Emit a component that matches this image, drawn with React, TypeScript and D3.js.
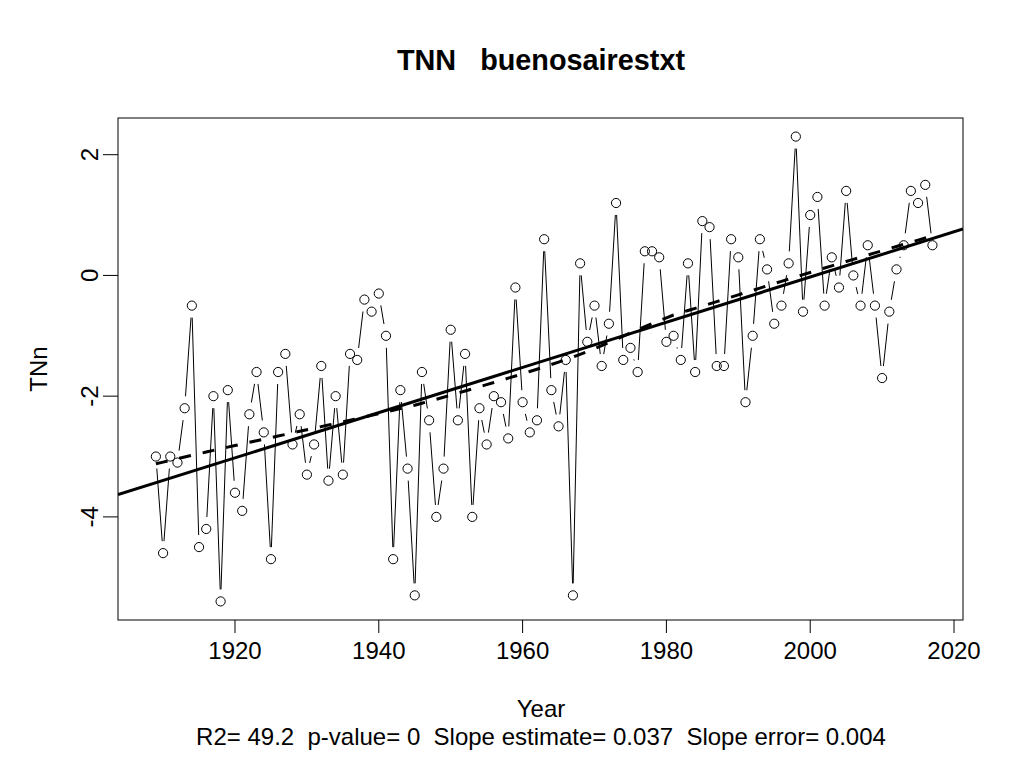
import React from "react";
import * as d3 from "d3";

const firstYear = 1909;
const tnnValues = [
  -3.0, -4.6, -3.0, -3.1, -2.2, -0.5, -4.5, -4.2, -2.0, -5.4,
  -1.9, -3.6, -3.9, -2.3, -1.6, -2.6, -4.7, -1.6, -1.3, -2.8,
  -2.3, -3.3, -2.8, -1.5, -3.4, -2.0, -3.3, -1.3, -1.4, -0.4,
  -0.6, -0.3, -1.0, -4.7, -1.9, -3.2, -5.3, -1.6, -2.4, -4.0,
  -3.2, -0.9, -2.4, -1.3, -4.0, -2.2, -2.8, -2.0, -2.1, -2.7,
  -0.2, -2.1, -2.6, -2.4, 0.6, -1.9, -2.5, -1.4, -5.3, 0.2,
  -1.1, -0.5, -1.5, -0.8, 1.2, -1.4, -1.2, -1.6, 0.4, 0.4,
  0.3, -1.1, -1.0, -1.4, 0.2, -1.6, 0.9, 0.8, -1.5, -1.5,
  0.6, 0.3, -2.1, -1.0, 0.6, 0.1, -0.8, -0.5, 0.2, 2.3,
  -0.6, 1.0, 1.3, -0.5, 0.3, -0.2, 1.4, 0.0, -0.5, 0.5,
  -0.5, -1.7, -0.6, 0.1, 0.5, 1.4, 1.2, 1.5, 0.5,
];
const years = tnnValues.map((_, i) => firstYear + i);
const xTicks = [1920, 1940, 1960, 1980, 2000, 2020];
const yTicks = [2, 0, -2, -4];
const titleText = "TNN   buenosairestxt";
const xLabel = "Year";
const yLabel = "TNn";
const statsText = "R2= 49.2  p-value= 0  Slope estimate= 0.037  Slope error= 0.004";

// R-style lowess (clowess), f = 2/3, iter = 3
function lowess(x: number[], y: number[], f = 2 / 3, iter = 3): number[] {
  const n = x.length;
  const ns = Math.max(Math.min(Math.round(f * n), n), 2);
  const range = x[n - 1] - x[0];
  let rw = new Array(n).fill(1);
  let ys = new Array(n).fill(0);
  for (let it = 0; it <= iter; it++) {
    let nleft = 0;
    let nright = ns - 1;
    for (let i = 0; i < n; i++) {
      while (nright < n - 1 && x[i] - x[nleft] > x[nright + 1] - x[i]) {
        nleft++;
        nright++;
      }
      const h = Math.max(x[i] - x[nleft], x[nright] - x[i]);
      const h9 = 0.999 * h;
      const h1 = 0.001 * h;
      const w = new Array(n).fill(0);
      let a = 0;
      for (let j = 0; j < n; j++) {
        const r = Math.abs(x[j] - x[i]);
        if (r <= h9) {
          if (r <= h1) w[j] = 1;
          else w[j] = Math.pow(1 - Math.pow(r / h, 3), 3);
          w[j] *= rw[j];
          a += w[j];
        }
      }
      if (a <= 0) {
        ys[i] = y[i];
        continue;
      }
      for (let j = 0; j < n; j++) w[j] /= a;
      if (h > 0) {
        let aa = 0;
        for (let j = 0; j < n; j++) aa += w[j] * x[j];
        let b = x[i] - aa;
        let c = 0;
        for (let j = 0; j < n; j++) c += w[j] * (x[j] - aa) * (x[j] - aa);
        if (Math.sqrt(c) > 0.001 * range) {
          b /= c;
          for (let j = 0; j < n; j++) w[j] *= b * (x[j] - aa) + 1;
        }
      }
      let s = 0;
      for (let j = 0; j < n; j++) s += w[j] * y[j];
      ys[i] = s;
    }
    if (it === iter) break;
    const res = y.map((v, i) => Math.abs(v - ys[i]));
    const cmad = 6 * (d3.median(res) as number);
    if (cmad < 1e-7) break;
    const c9 = 0.999 * cmad;
    const c1 = 0.001 * cmad;
    rw = res.map((r) => (r <= c1 ? 1 : r > c9 ? 0 : Math.pow(1 - Math.pow(r / cmad, 2), 2)));
  }
  return ys;
}

export default function App() {
  const W = 1024;
  const H = 768;
  const left = 118, right = 963, top = 118, bottom = 620;

  const x = d3.scaleLinear().domain([1903.73, 2021.25]).range([left, right]);
  const y = d3.scaleLinear().domain([-5.708, 2.608]).range([bottom, top]);

  // linear regression
  const mx = d3.mean(years) as number;
  const my = d3.mean(tnnValues) as number;
  let sxy = 0, sxx = 0;
  years.forEach((yr, i) => {
    sxy += (yr - mx) * (tnnValues[i] - my);
    sxx += (yr - mx) * (yr - mx);
  });
  const slope = sxy / sxx;
  const intercept = my - slope * mx;
  const [d0, d1] = x.domain();

  const smooth = lowess(years, tnnValues);
  const smoothLine = d3
    .line<number>()
    .x((_, i) => x(years[i]))
    .y((v) => y(v))(smooth) as string;

  // type="b" segments with gaps
  const gap = 12;
  const segs: { x1: number; y1: number; x2: number; y2: number }[] = [];
  for (let i = 0; i < years.length - 1; i++) {
    const ax = x(years[i]), ay = y(tnnValues[i]);
    const bx = x(years[i + 1]), by = y(tnnValues[i + 1]);
    const dx = bx - ax, dy = by - ay;
    const d = Math.sqrt(dx * dx + dy * dy);
    if (d > 2 * gap) {
      segs.push({
        x1: ax + (gap * dx) / d,
        y1: ay + (gap * dy) / d,
        x2: bx - (gap * dx) / d,
        y2: by - (gap * dy) / d,
      });
    }
  }

  const font = "'Liberation Sans', Arial, sans-serif";
  const pre = { whiteSpace: "pre" as const };

  return (
    <svg
      width={W}
      height={H}
      style={{ position: "absolute", left: 0, top: 0, background: "#fff" }}
      fontFamily={font}
    >
      <rect x={0} y={0} width={W} height={H} fill="#fff" />
      <defs>
        <clipPath id="plotclip">
          <rect x={left} y={top} width={right - left} height={bottom - top} />
        </clipPath>
      </defs>
      <text x={541} y={70} textAnchor="middle" fontSize={28.8} fontWeight="bold" style={pre}>
        {titleText}
      </text>

      {/* data lines */}
      {segs.map((s, i) => (
        <line key={i} x1={s.x1} y1={s.y1} x2={s.x2} y2={s.y2} stroke="#000" strokeWidth={1} />
      ))}
      {/* points */}
      {years.map((yr, i) => (
        <circle key={yr} cx={x(yr)} cy={y(tnnValues[i])} r={4.6} fill="none" stroke="#000" strokeWidth={1} />
      ))}

      <g clipPath="url(#plotclip)">
        <line
          x1={x(d0)}
          y1={y(intercept + slope * d0)}
          x2={x(d1)}
          y2={y(intercept + slope * d1)}
          stroke="#000"
          strokeWidth={3}
        />
        <path d={smoothLine} fill="none" stroke="#000" strokeWidth={3} strokeDasharray="12,12" />
      </g>

      {/* box */}
      <rect x={left} y={top} width={right - left} height={bottom - top} fill="none" stroke="#000" strokeWidth={1} />

      {/* x axis */}
      {xTicks.map((t) => (
        <g key={t}>
          <line x1={x(t)} x2={x(t)} y1={bottom} y2={bottom + 13} stroke="#000" />
          <text x={x(t)} y={659} textAnchor="middle" fontSize={24}>
            {t}
          </text>
        </g>
      ))}
      {/* y axis */}
      {yTicks.map((t) => (
        <g key={t}>
          <line x1={left - 15} x2={left} y1={y(t)} y2={y(t)} stroke="#000" />
          <text
            transform={`translate(98,${y(t)}) rotate(-90)`}
            textAnchor="middle"
            fontSize={24}
          >
            {t}
          </text>
        </g>
      ))}

      <text x={541} y={717} textAnchor="middle" fontSize={24}>
        {xLabel}
      </text>
      <text x={541} y={745} textAnchor="middle" fontSize={24} style={pre}>
        {statsText}
      </text>
      <text transform={`translate(47,${(top + bottom) / 2}) rotate(-90)`} textAnchor="middle" fontSize={24}>
        {yLabel}
      </text>
    </svg>
  );
}
